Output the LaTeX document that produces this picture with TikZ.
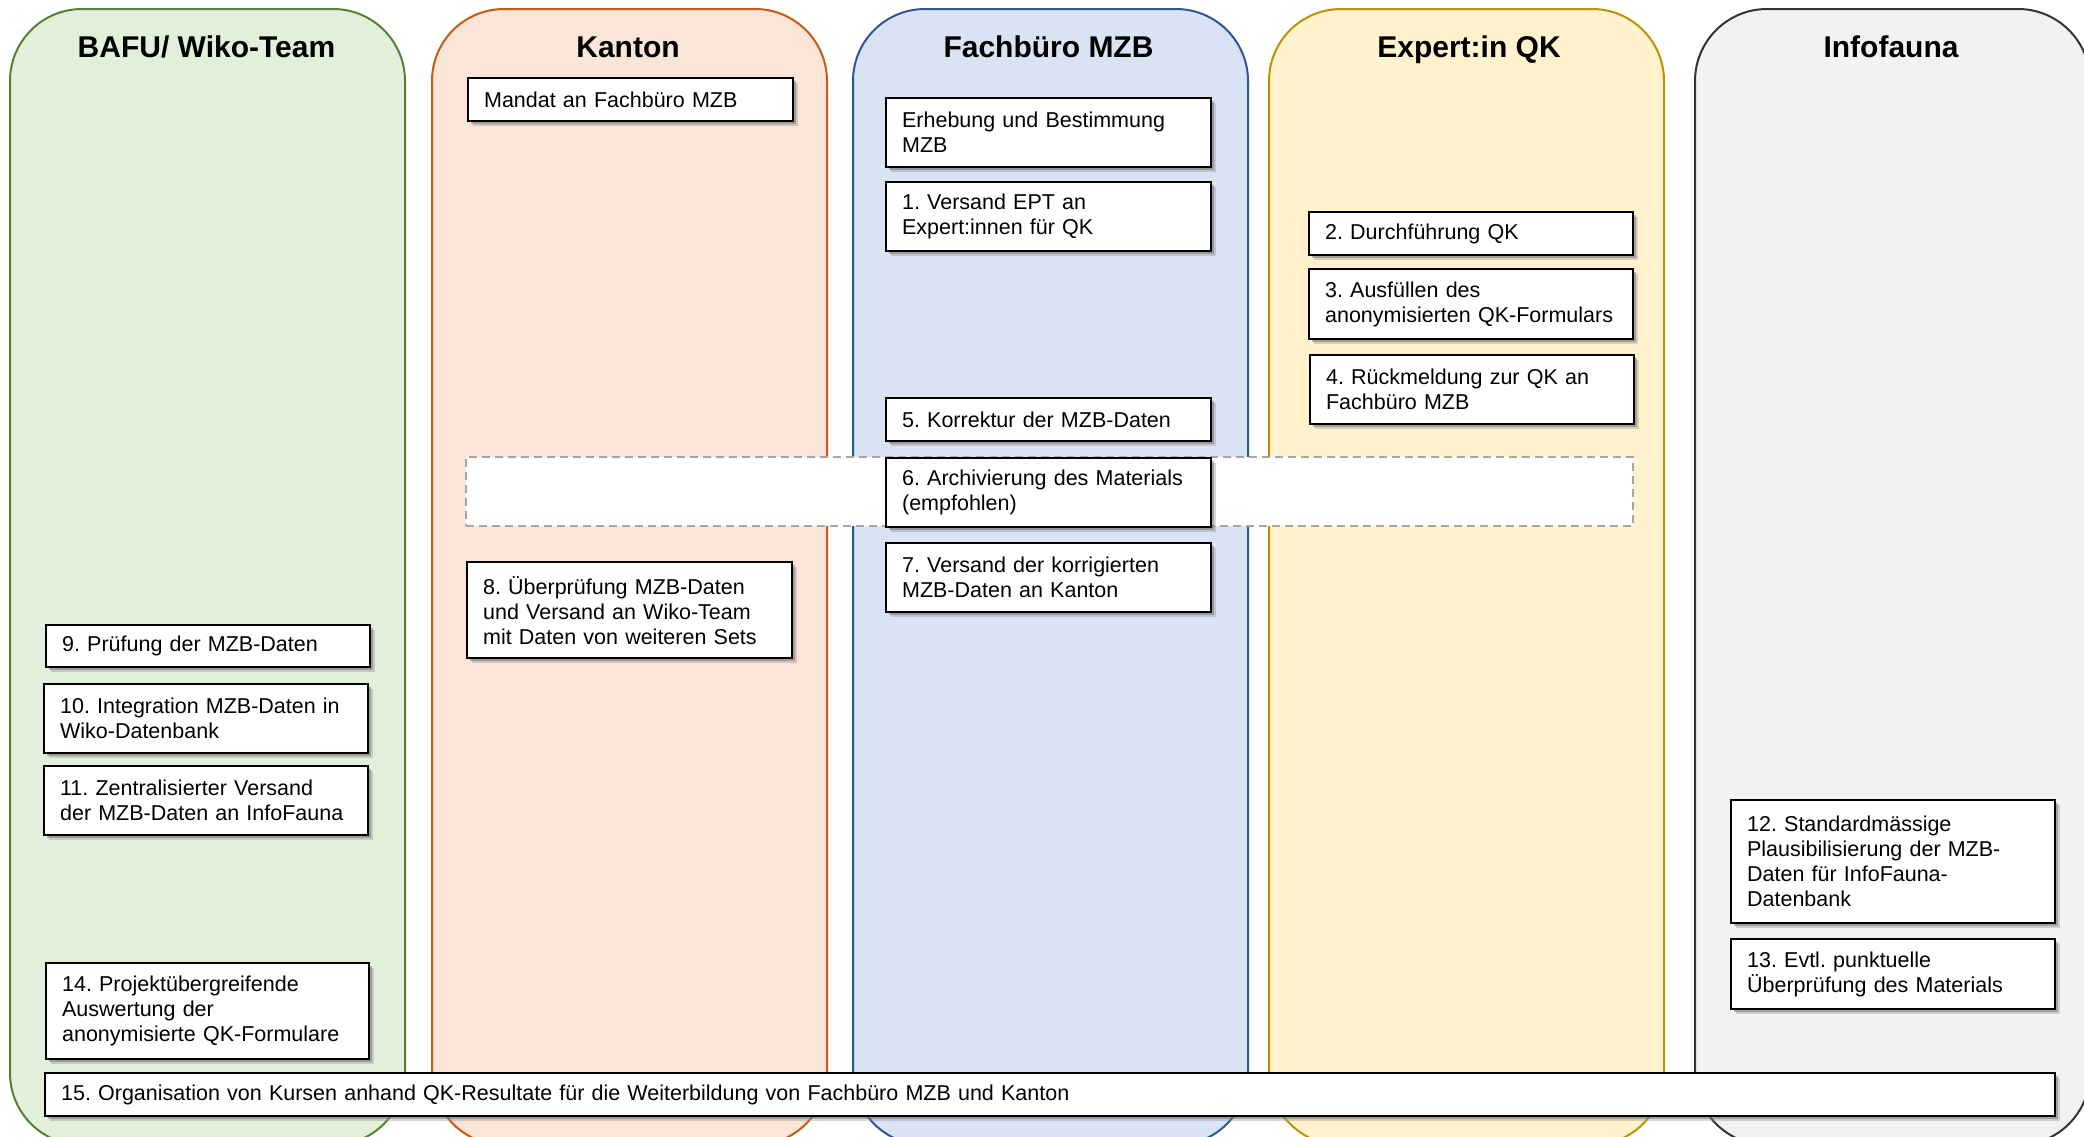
\documentclass[tikz,border=0pt]{standalone}
\usepackage{fontspec}
\setmainfont{Liberation Sans}
\usetikzlibrary{shadows}
\frenchspacing
\definecolor{fillA}{HTML}{E2EFDA}\definecolor{lineA}{HTML}{548235}
\definecolor{fillB}{HTML}{FBE5D6}\definecolor{lineB}{HTML}{C55A11}
\definecolor{fillC}{HTML}{DAE3F3}\definecolor{lineC}{HTML}{2F5597}
\definecolor{fillD}{HTML}{FFF2CC}\definecolor{lineD}{HTML}{BF9000}
\definecolor{fillE}{HTML}{F2F2F2}\definecolor{lineE}{HTML}{333333}
\definecolor{dashgray}{HTML}{A6A6A6}
\tikzset{
  lanebox/.style={rectangle, line width=1pt, rounded corners=36pt, anchor=north west,
    minimum width=197.5pt, minimum height=568pt, inner sep=0pt},
  lanehead/.style={anchor=base, font=\fontsize{15}{18}\selectfont\bfseries, inner sep=0pt},
  stepbox/.style={rectangle, draw=black, line width=1.1pt, fill=white, anchor=north west,
    align=left, inner xsep=8pt, inner ysep=0pt,
    font=\fontsize{10.75}{12.5}\selectfont,
    execute at begin node={\frenchspacing\hyphenpenalty=10000\exhyphenpenalty=10000},
    drop shadow={shadow xshift=2.4pt, shadow yshift=-2.4pt, fill=black!45, opacity=0.35},
    drop shadow={shadow xshift=1.4pt, shadow yshift=-1.4pt, fill=black!60, opacity=0.45}},
  dashbox/.style={rectangle, draw=dashgray, line width=0.9pt, dash pattern=on 4pt off 2.5pt,
    fill=white, anchor=north west, inner sep=0pt}
}
\newcommand\stepnode[6]{%
  \pgfmathsetmacro\stepbw{#4*0.5}%
  \pgfmathsetmacro\stepbh{#5*0.5}%
  \pgfmathsetmacro\steptw{(#4-32)*0.5}%
  \node[stepbox, minimum width=\stepbw pt, minimum height=\stepbh pt, text width=\steptw pt] (#1) at (#2,#3) {#6};}
\begin{document}
\begin{tikzpicture}[x=0.5pt, y=-0.5pt]
\useasboundingbox (0,0) rectangle (2084,1136);
\clip (0,0) rectangle (2084,1136);
% lanes
\node[lanebox, draw=lineA, fill=fillA] (laneA) at (9,8) {};
\node[lanebox, draw=lineB, fill=fillB] (laneB) at (431,8) {};
\node[lanebox, draw=lineC, fill=fillC] (laneC) at (852,8) {};
\node[lanebox, draw=lineD, fill=fillD] (laneD) at (1268,8) {};
\node[lanebox, draw=lineE, fill=fillE] (laneE) at (1694,8) {};
% headers
\node[lanehead] (headA) at (206.5,57) {BAFU/ Wiko-Team};
\node[lanehead] (headB) at (628,57) {Kanton};
\node[lanehead] (headC) at (1048.5,57) {Fachbüro MZB};
\node[lanehead] (headD) at (1469,57) {Expert:in QK};
\node[lanehead] (headE) at (1891,57) {Infofauna};
% dashed archive band
\node[dashbox, minimum width=583.5pt, minimum height=34.5pt] (band) at (465,456) {};
% Kanton
\stepnode{k0}{467}{77}{325}{43}{Mandat an Fachbüro MZB}
\stepnode{k8}{466}{561}{325}{96}{8. Überprüfung MZB-Daten\\und Versand an Wiko-Team\\mit Daten von weiteren Sets}
% Fachbuero
\stepnode{f0}{885}{97}{325}{69}{Erhebung und Bestimmung\\MZB}
\stepnode{f1}{885}{181}{325}{69}{1. Versand EPT an\\Expert:innen für QK}
\stepnode{f5}{885}{397}{325}{43}{5. Korrektur der MZB-Daten}
\stepnode{f6}{885}{457}{325}{69}{6. Archivierung des Materials\\(empfohlen)}
\stepnode{f7}{885}{542}{325}{69}{7. Versand der korrigierten\\MZB-Daten an Kanton}
% Expert
\stepnode{e2}{1308}{211}{324}{43}{2. Durchführung QK}
\stepnode{e3}{1308}{268}{324}{70}{3. Ausfüllen des\\anonymisierten QK-Formulars}
\stepnode{e4}{1309}{354}{324}{69}{4. Rückmeldung zur QK an\\Fachbüro MZB}
% BAFU
\stepnode{b9}{45}{624}{324}{42}{9. Prüfung der MZB-Daten}
\stepnode{b10}{43}{683}{324}{69}{10. Integration MZB-Daten in\\Wiko-Datenbank}
\stepnode{b11}{43}{765}{324}{69}{11. Zentralisierter Versand\\der MZB-Daten an InfoFauna}
\stepnode{b14}{45}{962}{323}{96}{14. Projektübergreifende\\Auswertung der\\anonymisierte QK-Formulare}
% Infofauna
\stepnode{i12}{1730}{799}{324}{123}{12. Standardmässige\\Plausibilisierung der MZB-\\Daten für InfoFauna-\\Datenbank}
\stepnode{i13}{1730}{938}{324}{70}{13. Evtl. punktuelle\\Überprüfung des Materials}
% bottom wide box
\stepnode{b15}{44}{1072}{2010}{43}{15. Organisation von Kursen anhand QK-Resultate für die Weiterbildung von Fachbüro MZB und Kanton}
\end{tikzpicture}
\end{document}
